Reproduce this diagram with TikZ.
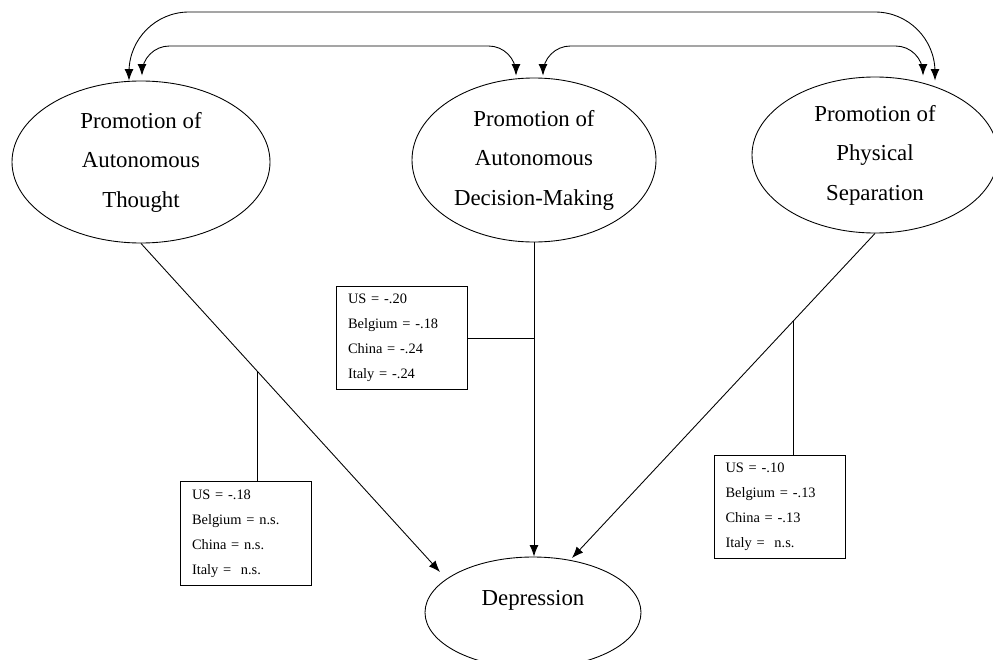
\documentclass[tikz,border=0pt]{standalone}
\usepackage{fontspec}
\setmainfont{Liberation Serif}
\usetikzlibrary{arrows.meta,calc,shapes.geometric}

\begin{document}
\begin{tikzpicture}[>={Latex[length=6.5pt,width=5pt]},line width=0.5pt,
  factor/.style={draw,ellipse,inner sep=0,align=center,font=\fontsize{13}{22.5}\selectfont},
  coefbox/.style={draw,rectangle,inner xsep=0.23cm,inner ysep=0,text width=2.16cm,align=left,
    minimum height=2.07cm,font=\fontsize{8.2}{14.2}\selectfont}]
  \useasboundingbox (0,0) rectangle (19.86,13.18);
  % parenting factors
  \node[factor,minimum width=5.16cm,minimum height=3.24cm] (thought) at (2.82,9.94) {Promotion of\\Autonomous\\Thought};
  \node[factor,minimum width=4.88cm,minimum height=3.28cm] (decision) at (10.68,9.98) {Promotion of\\Autonomous\\Decision-Making};
  \node[factor,minimum width=4.92cm,minimum height=3.12cm] (separation) at (17.5,10.08) {Promotion of\\Physical\\Separation};
  % outcome
  \node[factor,minimum width=4.32cm,minimum height=2.22cm] (depression) at (10.66,0.93) {};
  \node[font=\fontsize{13}{15}\selectfont] (deplbl) at (10.66,1.18) {Depression};
  % covariances
  \draw[<->,rounded corners=1.2cm] ([xshift=-0.24cm]thought.north) |- (10,12.94)
    -| ([xshift=1.2cm,yshift=-0.08cm]separation.north);
  \draw[<->,rounded corners=0.55cm] ([xshift=0.02cm,yshift=0.1cm]thought.north) |- (6,12.26)
    -| ([xshift=-0.36cm,yshift=0.04cm]decision.north);
  \draw[<->,rounded corners=0.55cm] ([xshift=0.18cm,yshift=0.04cm]decision.north) |- (14,12.26)
    -| ([xshift=0.96cm,yshift=0.02cm]separation.north);
  % paths to depression
  \coordinate (tipL) at (8.8,1.74);
  \coordinate (tipR) at (11.44,2.02);
  \draw[->] (thought.south) -- (tipL);
  \draw[->] (decision.south) -- (decision.south |- depression.north);
  \draw[->] (separation.south) -- (tipR);
  % coefficients per country
  \node[coefbox] (thoughtcoef) at (4.92,2.51) {US = -.18\\Belgium = n.s.\\China = n.s.\\Italy = \ n.s.};
  \node[coefbox] (decisioncoef) at (8.04,6.42) {US = -.20\\Belgium = -.18\\China = -.24\\Italy = -.24};
  \node[coefbox] (separationcoef) at (15.59,3.04) {US = -.10\\Belgium = -.13\\China = -.13\\Italy = \ n.s.};
  \coordinate (jL) at ($(thought.south)!0.391!(tipL)$);
  \coordinate (jR) at ($(separation.south)!0.27!(tipR)$);
  \draw (jL) -- (jL |- thoughtcoef.north);
  \draw (decisioncoef.east) -- (decisioncoef.east -| decision.south);
  \draw (jR) -- (jR |- separationcoef.north);
\end{tikzpicture}
\end{document}
